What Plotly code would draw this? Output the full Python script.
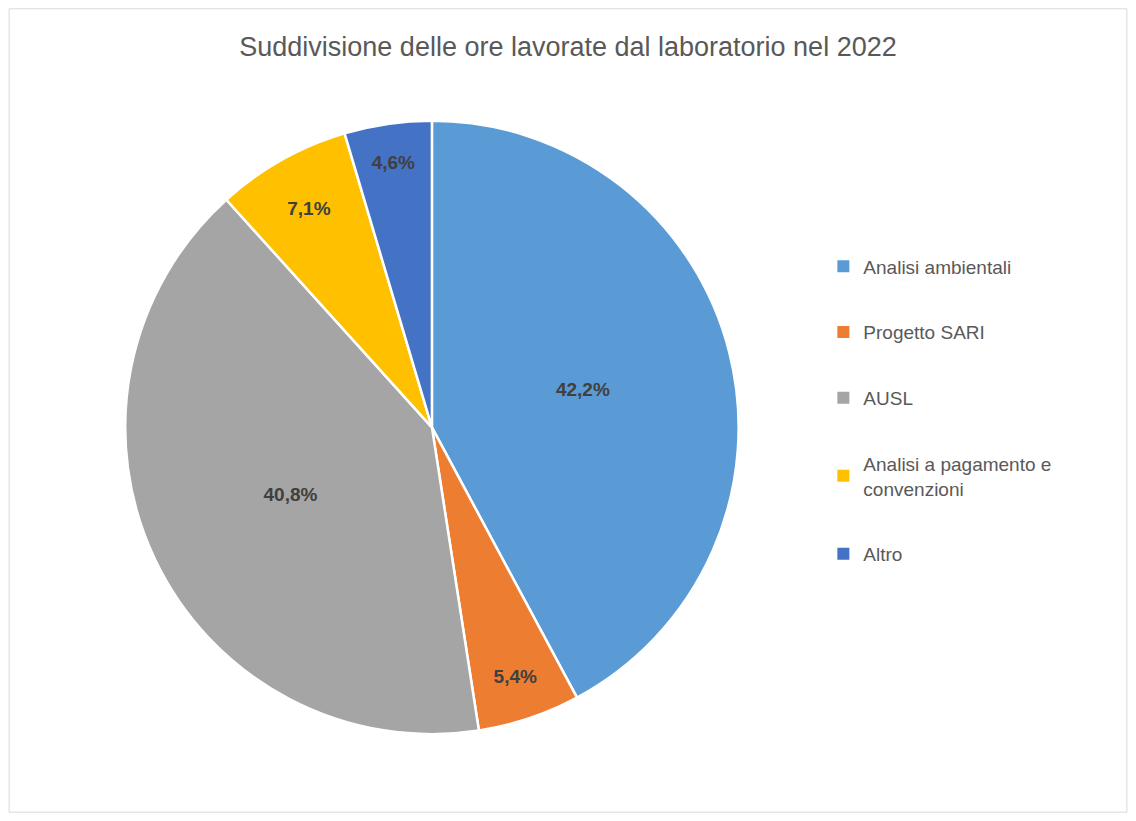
import plotly.graph_objects as go

categories = ["Analisi ambientali", "Progetto SARI", "AUSL",
              "Analisi a pagamento e<br>convenzioni", "Altro"]
values = [42.2, 5.4, 40.8, 7.1, 4.6]
colors = ["#5B9BD5", "#ED7D31", "#A5A5A5", "#FFC000", "#4472C4"]

fig = go.Figure(go.Pie(
    labels=categories, values=values, sort=False, direction="clockwise",
    rotation=0, marker=dict(colors=colors, line=dict(color="white", width=2.5)),
    texttemplate="%{percent:.1%}", textposition="inside",
    insidetextorientation="horizontal", showlegend=False,
    textfont=dict(family="Liberation Sans", size=19, color="#404040", weight="bold"),
    domain=dict(x=[0.103, 0.654], y=[0.098, 0.860]),
))

# legend entries (one group per category for Excel-like spacing)
for i, (c, col) in enumerate(zip(categories, colors)):
    fig.add_trace(go.Scatter(
        x=[None], y=[None], mode="markers", name=c, legendgroup=str(i),
        marker=dict(symbol="square", size=10, color=col), showlegend=True))

fig.update_layout(
    autosize=True, separators=",.",
    margin=dict(l=0, r=0, t=0, b=0),
    paper_bgcolor="white", plot_bgcolor="white",
    font=dict(family="Liberation Sans"),
    xaxis=dict(visible=False), yaxis=dict(visible=False),
    title=dict(text="Suddivisione delle ore lavorate dal laboratorio nel 2022",
               x=0.5, xanchor="center", y=0.952, yanchor="middle",
               font=dict(size=27, color="#595959")),
    legend=dict(x=0.728, y=0.5, xanchor="left", yanchor="middle",
                font=dict(size=19, color="#595959"), tracegroupgap=38,
                itemsizing="constant"),
    shapes=[dict(type="rect", xref="paper", yref="paper", x0=0.001, y0=0.001,
                 x1=0.999, y1=0.999, line=dict(color="#D9D9D9", width=1))],
)

fig.write_html("out.html", config={"responsive": True})
